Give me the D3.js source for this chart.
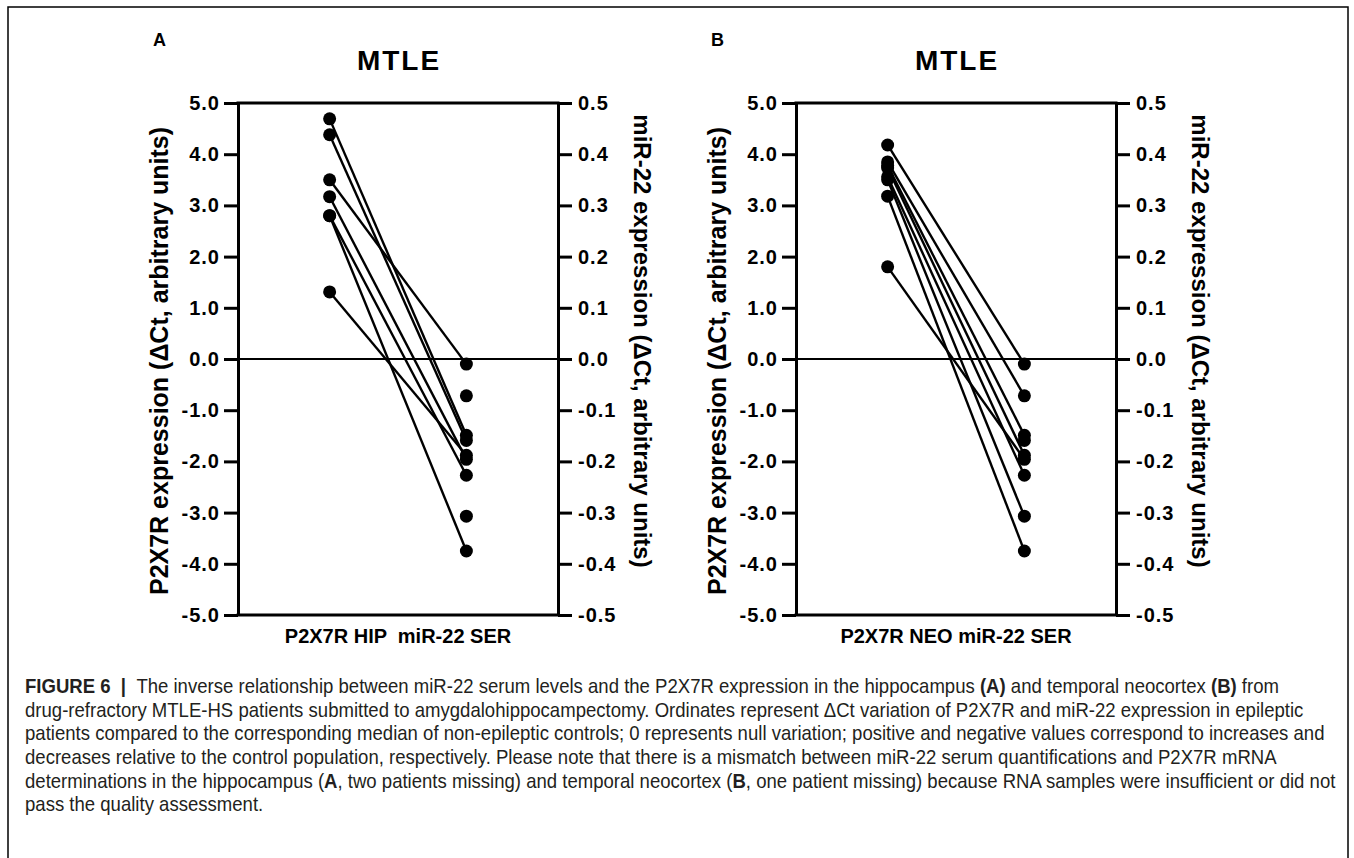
<!DOCTYPE html>
<html>
<head>
<meta charset="utf-8">
<script src="https://cdn.jsdelivr.net/npm/d3@7"></script>
<style>
    body { margin: 0; background: #fff; }
    svg { display: block; }
    .axis text { font-family: "Liberation Sans", Arial, sans-serif; font-weight: bold; font-size: 20px; letter-spacing: 1px; fill: #000; }
    .axis path, .axis line { stroke: #000; stroke-width: 3; }
    .chart-text { font-family: "Liberation Sans", Arial, sans-serif; font-weight: bold; fill: #000; white-space: pre; }
    .caption { font-family: "Liberation Sans", Arial, sans-serif; font-size: 20px; fill: #231f20; }
</style>
</head>
<body>
<svg id="figure"></svg>
<script>
'use strict';

(function () {
    const d3 = window.d3;

    // values
    const groups = ['P2X7R', 'miR-22'];
    const serumMir22 = [-0.010, -0.072, -0.149, -0.159, -0.188, -0.196, -0.227, -0.307, -0.375];
    const hipP2x7r = [4.69, 4.38, 3.50, 3.17, 2.80, 2.80, 1.31];
    const hipSerumIndex = [2, 3, 0, 5, 8, 6, 4];
    const neoP2x7r = [4.18, 3.85, 3.78, 3.73, 3.56, 3.50, 3.18, 1.80];
    const neoSerumIndex = [0, 1, 2, 4, 6, 7, 8, 5];
    const leftTicks = [5, 4, 3, 2, 1, 0, -1, -2, -3, -4, -5];
    const rightTicks = [0.5, 0.4, 0.3, 0.2, 0.1, 0, -0.1, -0.2, -0.3, -0.4, -0.5];

    const panels = [
        {letter: 'A', xLabel: 'P2X7R HIP  miR-22 SER', values: hipP2x7r, pairs: hipSerumIndex, left: 238},
        {letter: 'B', xLabel: 'P2X7R NEO miR-22 SER', values: neoP2x7r, pairs: neoSerumIndex, left: 796}
    ];

    const width = 1354;
    const height = 858;
    const top = 103;
    const plotW = 320;
    const plotH = 512;

    const svg = d3.select('#figure')
        .attr('width', width)
        .attr('height', height);

    svg.append('rect')
        .attr('x', 8)
        .attr('y', 7)
        .attr('width', 1340)
        .attr('height', 870)
        .attr('fill', 'none')
        .attr('stroke', '#000')
        .attr('stroke-width', 1.5);

    const fmt = d => d.toFixed(1);

    const x = d3.scalePoint()
        .domain(groups)
        .range([0, plotW])
        .padding(0.67);

    const yLeft = d3.scaleLinear()
        .domain([-5, 5])
        .range([plotH, 0]);

    const yRight = d3.scaleLinear()
        .domain([-0.5, 0.5])
        .range([plotH, 0]);

    panels.forEach(p => {
        const g = svg.append('g')
            .attr('transform', `translate(${p.left}, ${top})`);

        g.append('text')
            .attr('class', 'chart-text')
            .attr('x', -85)
            .attr('y', -57)
            .style('font-size', '18px')
            .text(p.letter);

        g.append('text')
            .attr('class', 'chart-text')
            .attr('x', plotW / 2 + 1)
            .attr('y', -33)
            .attr('text-anchor', 'middle')
            .style('font-size', '28px')
            .style('letter-spacing', '2px')
            .text('MTLE');

        // box top and bottom
        g.selectAll('.frame-line')
            .data([0, plotH])
            .enter().append('line')
            .attr('x1', 0)
            .attr('x2', plotW)
            .attr('y1', d => d)
            .attr('y2', d => d)
            .attr('stroke', '#000')
            .attr('stroke-width', 3)
            .attr('stroke-linecap', 'square');

        g.append('line')
            .attr('x1', 0)
            .attr('x2', plotW)
            .attr('y1', yLeft(0))
            .attr('y2', yLeft(0))
            .attr('stroke', '#000')
            .attr('stroke-width', 2);

        g.append('g')
            .attr('class', 'axis')
            .call(d3.axisLeft(yLeft)
                .tickValues(leftTicks)
                .tickFormat(fmt)
                .tickSize(14)
                .tickSizeOuter(0)
                .tickPadding(4));

        g.append('g')
            .attr('class', 'axis')
            .attr('transform', `translate(${plotW}, 0)`)
            .call(d3.axisRight(yRight)
                .tickValues(rightTicks)
                .tickFormat(fmt)
                .tickSize(14)
                .tickSizeOuter(0)
                .tickPadding(6));

        g.append('text')
            .attr('class', 'chart-text')
            .attr('transform', `translate(-70, ${plotH / 2 + 2}) rotate(-90)`)
            .attr('text-anchor', 'middle')
            .style('font-size', '25px')
            .text('P2X7R expression (\u0394Ct, arbitrary units)');

        g.append('text')
            .attr('class', 'chart-text')
            .attr('transform', `translate(${plotW + 76}, ${plotH / 2 - 18}) rotate(90)`)
            .attr('text-anchor', 'middle')
            .style('font-size', '24px')
            .text('miR-22 expression (\u0394Ct, arbitrary units)');

        g.append('text')
            .attr('class', 'chart-text')
            .attr('x', plotW / 2)
            .attr('y', plotH + 28)
            .attr('text-anchor', 'middle')
            .style('font-size', '20px')
            .text(p.xLabel);

        g.selectAll('.pair')
            .data(p.values)
            .enter().append('line')
            .attr('x1', x(groups[0]))
            .attr('y1', d => yLeft(d))
            .attr('x2', x(groups[1]))
            .attr('y2', (d, i) => yRight(serumMir22[p.pairs[i]]))
            .attr('stroke', '#000')
            .attr('stroke-width', 2.4);

        g.selectAll('.dot-left')
            .data(p.values)
            .enter().append('circle')
            .attr('cx', x(groups[0]))
            .attr('cy', d => yLeft(d))
            .attr('r', 6.5)
            .attr('fill', '#000');

        g.selectAll('.dot-right')
            .data(serumMir22)
            .enter().append('circle')
            .attr('cx', x(groups[1]))
            .attr('cy', d => yRight(d))
            .attr('r', 6.5)
            .attr('fill', '#000');
    });

    // caption
    const captionLines = [
        [['FIGURE 6', true], ['  |  ', true], ['The inverse relationship between miR-22 serum levels and the P2X7R expression in the hippocampus ', false], ['(A)', true], [' and temporal neocortex ', false], ['(B)', true], [' from', false]],
        [['drug-refractory MTLE-HS patients submitted to amygdalohippocampectomy. Ordinates represent \u0394Ct variation of P2X7R and miR-22 expression in epileptic', false]],
        [['patients compared to the corresponding median of non-epileptic controls; 0 represents null variation; positive and negative values correspond to increases and', false]],
        [['decreases relative to the control population, respectively. Please note that there is a mismatch between miR-22 serum quantifications and P2X7R mRNA', false]],
        [['determinations in the hippocampus (', false], ['A', true], [', two patients missing) and temporal neocortex (', false], ['B', true], [', one patient missing) because RNA samples were insufficient or did not', false]],
        [['pass the quality assessment.', false]]
    ];

    const caption = svg.append('g')
        .attr('class', 'caption');

    const captionTexts = captionLines.map((parts, i) => {
        const t = caption.append('text')
            .attr('x', 0)
            .attr('y', 693 + i * 23.7)
            .style('white-space', 'pre');
        parts.forEach(part => {
            t.append('tspan')
                .style('font-weight', part[1] ? 'bold' : 'normal')
                .text(part[0]);
        });
        return t;
    });

    // the journal caption face is condensed: squeeze the first line to its width
    const firstLen = captionTexts[0].node().getComputedTextLength();
    const squeeze = 1255 / firstLen;
    caption.attr('transform', `translate(25, 0) scale(${squeeze}, 1)`);
})();
</script>
</body>
</html>
